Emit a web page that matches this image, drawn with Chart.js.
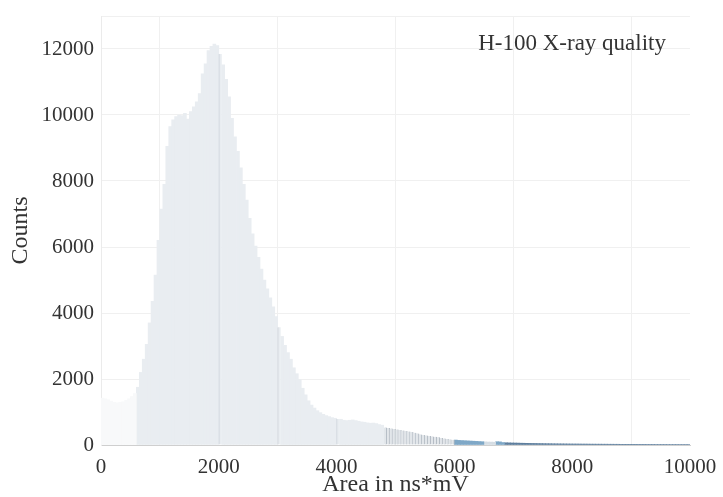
<!DOCTYPE html>
<html lang="en">
<head>
    <meta charset="UTF-8">
    <title>H-100 X-ray quality</title>
    <script src="https://cdn.jsdelivr.net/npm/chart.js"></script>
    <style>
        body { margin: 0; background: #fff; }
    </style>
</head>
<body>
<canvas id="histChart" width="723" height="497"></canvas>

<script>
// Histogram bins are 50 ns*mV wide; each segment lists its counts in bin order
const binWidth = 50;
const legendLabel = 'H-100 X-ray quality';
const xTickValues = [0, 2000, 4000, 6000, 8000, 10000];
const yTickValues = [0, 2000, 4000, 6000, 8000, 10000, 12000];
const yMax = 13000;

// 0 - 600
const countsLow = [1420, 1400, 1370, 1330, 1290, 1280, 1290, 1310, 1350, 1400, 1470, 1560];
// 600 - 4800
const countsMain = [
    1750, 2200, 2600, 3050, 3700, 4350, 5150, 6200,
    7150, 7900, 9050, 9650, 9850, 9950, 10000, 9980, 10050, 9880,
    10100, 10250, 10400, 10650, 11250, 11550, 11950, 12080, 12150, 12100,
    11850, 11520, 11080, 10550, 9900, 9340, 8900, 8400, 7900, 7420,
    6870, 6400, 6030, 5690, 5330, 5000, 4730, 4460, 4190, 3890,
    3570, 3290, 3020, 2800, 2600, 2340, 2160, 1980, 1720, 1520,
    1340, 1210, 1120, 1040, 980, 930, 890, 860, 830, 810,
    790, 780, 750, 740, 750, 760, 740, 720, 700, 690, 670, 660, 665, 650, 620, 600
];
// 4800 - 6000
const countsMid = [530, 515, 500, 485, 470, 455, 440, 425, 410, 395, 370, 350,
    320, 300, 285, 270, 260, 250, 235, 210, 195, 180, 170, 160];
// 6000 - 6500
const countsBlue = [150, 140, 135, 130, 125, 120, 115, 110, 105, 100];
// 6500 - 6700
const countsGap = [95, 90, 88, 85];
// 6700 - 6850
const countsBlue2 = [100, 95, 75];
// 6850 - 10000
const countsTail = [68, 65, 62, 60, 58, 55, 53, 51, 49, 47, 46, 44, 43, 41, 40, 39, 37, 36, 35, 34,
    33, 32, 31, 30, 30, 29, 28, 28, 27, 26, 26, 25, 25, 24, 24, 23, 23, 22, 22, 21,
    21, 21, 20, 20, 20, 19, 19, 19, 18, 18, 18, 17, 17, 17, 17, 16, 16, 16, 16, 15,
    15, 15, 15];

// bin edges where the bars show a darker edge line
const markedEdges = [2000, 3000, 4000];

function toPoints(start, counts) {
    return counts.map((c, i) => ({ x: start + i * binWidth + binWidth / 2, y: c }));
}

function segment(start, counts, fill, extra) {
    return Object.assign({
        data: toPoints(start, counts),
        backgroundColor: fill,
        borderWidth: 0,
        barPercentage: 1.0,
        categoryPercentage: 1.0,
        grouped: false
    }, extra || {});
}

const serif = '"Liberation Serif", "Times New Roman", serif';

// draws the legend text in the top right corner (no swatch, like the original)
const legendText = {
    id: 'legendText',
    afterDraw(chart) {
        const ctx = chart.ctx;
        ctx.save();
        ctx.font = '23px ' + serif;
        ctx.fillStyle = '#333';
        ctx.textAlign = 'right';
        ctx.textBaseline = 'alphabetic';
        ctx.fillText(legendLabel, chart.chartArea.right - 24, 50);
        ctx.restore();
    }
};

new Chart(document.getElementById('histChart'), {
    type: 'bar',
    data: {
        datasets: [
            segment(0, countsLow, '#f8f9fa'),
            segment(600, countsMain, '#e9edf1', {
                borderColor: '#cdd3d9',
                borderWidth: (c) => (c.raw && markedEdges.includes(c.raw.x - binWidth / 2))
                    ? { left: 1, right: 0, top: 0, bottom: 0 } : 0
            }),
            segment(4800, countsMid, '#e2e6ea', {
                borderColor: '#aab3bc',
                borderWidth: { left: 0, right: 1, top: 0, bottom: 0 }
            }),
            segment(6000, countsBlue, '#7fa8c7'),
            segment(6500, countsGap, '#d5dde4'),
            segment(6700, countsBlue2, '#7fa8c7'),
            segment(6850, countsTail, '#5f7f9e')
        ]
    },
    options: {
        responsive: false,
        animation: false,
        layout: { padding: { left: 0, top: 16, right: 33, bottom: 0 } },
        plugins: {
            legend: { display: false },
            tooltip: { enabled: false }
        },
        scales: {
            x: {
                type: 'linear',
                offset: false,
                min: 0,
                max: 10000,
                afterBuildTicks: (scale) => { scale.ticks = xTickValues.map(v => ({ value: v })); },
                afterFit: (scale) => {
                    scale.height = 52;
                    scale.paddingLeft = 0;
                    scale.paddingRight = 0;
                },
                grid: { color: '#f0f0f0', drawTicks: false },
                border: { color: '#cfcfcf' },
                ticks: {
                    padding: 10,
                    color: '#333',
                    font: { family: serif, size: 21 },
                    maxRotation: 0,
                    callback: (v) => String(v)
                },
                title: {
                    display: true,
                    text: 'Area in ns*mV',
                    color: '#333',
                    font: { family: serif, size: 24, lineHeight: 1 },
                    padding: { top: 0, bottom: 0 }
                }
            },
            y: {
                min: 0,
                max: yMax,
                afterBuildTicks: (scale) => {
                    scale.ticks = yTickValues.concat([yMax]).map(v => ({ value: v }));
                },
                afterFit: (scale) => {
                    scale.width = 101;
                    scale.paddingTop = 0;
                    scale.paddingBottom = 0;
                },
                grid: { color: '#f0f0f0', drawTicks: false },
                border: { color: '#ebebeb' },
                ticks: {
                    padding: 7,
                    color: '#333',
                    font: { family: serif, size: 21 },
                    callback: (v) => (v === yMax ? '' : String(v))
                },
                title: {
                    display: true,
                    text: 'Counts',
                    color: '#333',
                    font: { family: serif, size: 24 },
                    padding: { top: 6, bottom: 0 }
                }
            }
        }
    },
    plugins: [legendText]
});
</script>
</body>
</html>
